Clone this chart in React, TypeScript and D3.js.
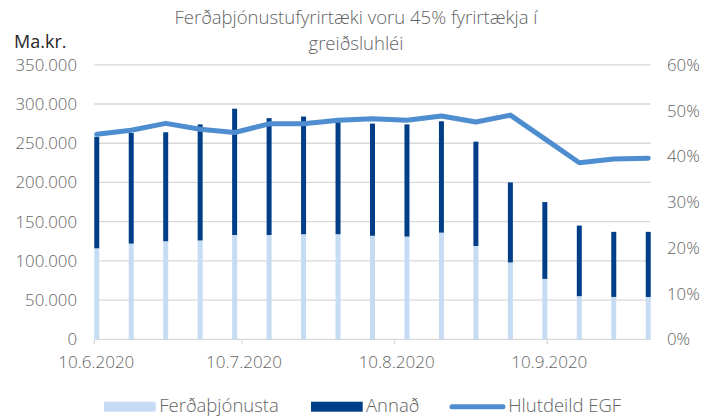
import React from "react";
import * as d3 from "d3";

const dates = [
  "2020-06-10", "2020-06-17", "2020-06-24", "2020-07-01", "2020-07-08", "2020-07-15",
  "2020-07-22", "2020-07-29", "2020-08-05", "2020-08-12", "2020-08-19", "2020-08-26",
  "2020-09-02", "2020-09-09", "2020-09-16", "2020-09-23", "2020-09-30",
];
const ferdathjonusta = [116000, 122000, 125000, 126000, 133000, 133000, 134000, 134000, 132000, 131000, 136000, 119000, 98000, 77000, 55000, 54000, 54000];
const annad = [142000, 141000, 139000, 148000, 161000, 149000, 150000, 144000, 143000, 143000, 142000, 133000, 102000, 98000, 90000, 83000, 83000];
const hlutdeild = [44.8, 45.7, 47.2, 45.9, 45.2, 47.1, 47.1, 47.9, 48.2, 47.9, 48.8, 47.5, 49.0, 43.8, 38.6, 39.4, 39.6];

const leftTicks = [0, 50000, 100000, 150000, 200000, 250000, 300000, 350000];
const rightTicks = [0, 10, 20, 30, 40, 50, 60];
const xTickDates = ["2020-06-10", "2020-07-10", "2020-08-10", "2020-09-10"];
const xTickLabels = ["10.6.2020", "10.7.2020", "10.8.2020", "10.9.2020"];
const titleLines = ["Ferðaþjónustufyrirtæki voru 45% fyrirtækja í", "greiðsluhléi"];
const yUnit = "Ma.kr.";
const legendLabels = ["Ferðaþjónusta", "Annað", "Hlutdeild EGF"];

const C_LIGHT = "#C5DCF4";
const C_DARK = "#003F87";
const C_LINE = "#4E8ED0";
const C_GRID = "#D9D9D9";
const C_TEXT = "#646464";
const FONT = "'Open Sans', sans-serif";

export default function App() {
  const W = 705, H = 417;
  const left = 94.3, right = 650.7, top = 64.8, bottom = 339.3;
  const parse = (s: string) => new Date(s + "T00:00:00Z");
  const x = d3.scaleUtc().domain([parse("2020-06-10"), parse("2020-10-01")]).range([left, right]);
  const yL = d3.scaleLinear().domain([0, 350000]).range([bottom, top]);
  const yR = d3.scaleLinear().domain([0, 60]).range([bottom, top]);
  const bx = (s: string) => x(d3.utcHour.offset(parse(s), 12));
  const barW = 5;

  const line = d3.line<number>()
    .x((_, i) => bx(dates[i]))
    .y((d) => yR(d));

  const fmt = (v: number) => (v === 0 ? "0" : d3.format(",")(v).replace(/,/g, "."));

  return (
    <svg width={W} height={H} style={{ position: "absolute", left: 0, top: 0, background: "#fff" }} fontFamily={FONT}>
      {/* title */}
      <text x={356} y={24} textAnchor="middle" fontSize={18.5} fontWeight={300} fill={C_TEXT}>{titleLines[0]}</text>
      <text x={356} y={49.5} textAnchor="middle" fontSize={18.5} fontWeight={300} fill={C_TEXT}>{titleLines[1]}</text>
      <text x={14} y={48} fontSize={18} fontWeight={400} fill="#262626">{yUnit}</text>

      {/* gridlines */}
      {leftTicks.map((t) => (
        <line key={t} x1={left} x2={right} y1={yL(t)} y2={yL(t)} stroke={C_GRID} strokeWidth={1.3} />
      ))}
      {xTickDates.map((s) => (
        <line key={s} x1={x(parse(s))} x2={x(parse(s))} y1={bottom} y2={bottom + 5} stroke={C_GRID} strokeWidth={1.3} />
      ))}

      {/* left axis labels */}
      {leftTicks.map((t) => (
        <text key={t} x={77} y={yL(t)} dy="0.36em" textAnchor="end" fontSize={16.8} fontWeight={300} fill={C_TEXT}>{fmt(t)}</text>
      ))}
      {/* right axis labels */}
      {rightTicks.map((t) => (
        <text key={t} x={667} y={yR(t)} dy="0.36em" textAnchor="start" fontSize={16.8} fontWeight={300} fill={C_TEXT}>{t + "%"}</text>
      ))}
      {/* x labels */}
      {xTickDates.map((s, i) => (
        <text key={s} x={x(parse(s)) + 2} y={368} textAnchor="middle" fontSize={17} fontWeight={300} fill={C_TEXT}>{xTickLabels[i]}</text>
      ))}

      {/* bars */}
      {dates.map((s, i) => (
        <g key={s}>
          <rect x={bx(s) - barW / 2} width={barW} y={yL(ferdathjonusta[i])} height={yL(0) - yL(ferdathjonusta[i])} fill={C_LIGHT} />
          <rect x={bx(s) - barW / 2} width={barW} y={yL(ferdathjonusta[i] + annad[i])} height={yL(ferdathjonusta[i]) - yL(ferdathjonusta[i] + annad[i])} fill={C_DARK} />
        </g>
      ))}

      {/* line */}
      <path d={line(hlutdeild) || ""} fill="none" stroke={C_LINE} strokeWidth={5} strokeLinejoin="round" strokeLinecap="round" />

      {/* legend */}
      <rect x={104} y={401.7} width={51.7} height={10} fill={C_LIGHT} />
      <text x={159.3} y={412} fontSize={18.5} fontWeight={300} fill={C_TEXT}>{legendLabels[0]}</text>
      <rect x={311} y={401.7} width={51.7} height={10} fill={C_DARK} />
      <text x={366} y={412} fontSize={18.5} fontWeight={300} fill={C_TEXT}>{legendLabels[1]}</text>
      <line x1={452} x2={503} y1={406.7} y2={406.7} stroke={C_LINE} strokeWidth={5} strokeLinecap="round" />
      <text x={508.3} y={412} fontSize={18.5} fontWeight={300} fill={C_TEXT}>{legendLabels[2]}</text>
    </svg>
  );
}
